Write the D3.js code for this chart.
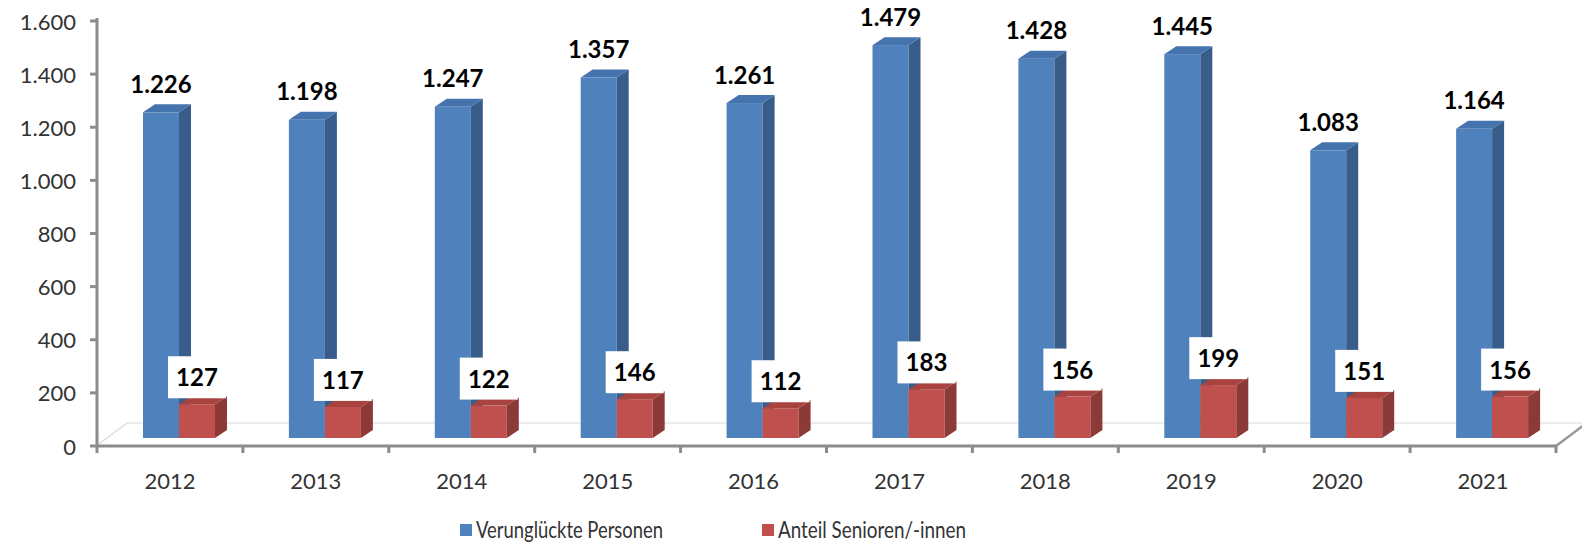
<!DOCTYPE html>
<html><head><meta charset="utf-8">
<script src="https://cdn.jsdelivr.net/npm/d3@7/dist/d3.min.js"></script>
<style>html,body{margin:0;padding:0;background:#fff;}svg{display:block;}</style>
</head><body>
<svg id="chart" width="1582" height="544"></svg>
<script>
const years = ["2012","2013","2014","2015","2016","2017","2018","2019","2020","2021"];
const verunglueckte = [1226,1198,1247,1357,1261,1479,1428,1445,1083,1164];
const senioren = [127,117,122,146,112,183,156,199,151,156];
const yTicks = [0,200,400,600,800,1000,1200,1400,1600];
const seriesNames = ["Verunglückte Personen","Anteil Senioren/-innen"];

const loc = d3.formatLocale({decimal:",", thousands:".", grouping:[3], currency:["","€"]});
const fmt = loc.format(",d");

const svg = d3.select("#chart");
const FONT = "Lato, 'Open Sans', sans-serif";

const x = d3.scaleBand().domain(years).range([97,1556]).padding(0);
const yAxisScale = d3.scaleLinear().domain([0,1600]).range([446,21]);
const yBar = d3.scaleLinear().domain([0,1600]).range([438,13]);
const dx = 12, dy = -8, bw = 36;
const blueOff = 46, redOff = 82;

// floor
svg.append("line").attr("x1",127).attr("y1",423).attr("x2",1590).attr("y2",423)
  .attr("stroke","#d9d9d9").attr("stroke-width",1.2);
svg.append("line").attr("x1",99).attr("y1",444).attr("x2",127).attr("y2",423)
  .attr("stroke","#d9d9d9").attr("stroke-width",1.2);
svg.append("line").attr("x1",1556).attr("y1",446).attr("x2",1584).attr("y2",425)
  .attr("stroke","#999").attr("stroke-width",2.5);

// axes
svg.append("line").attr("x1",97).attr("y1",18).attr("x2",97).attr("y2",446)
  .attr("stroke","#8c8c8c").attr("stroke-width",3);
svg.append("line").attr("x1",96).attr("y1",446).attr("x2",1557).attr("y2",446)
  .attr("stroke","#8c8c8c").attr("stroke-width",3);
svg.selectAll(".ytick").data(yTicks).enter().append("line")
  .attr("x1",90).attr("x2",97).attr("y1",d=>yAxisScale(d)).attr("y2",d=>yAxisScale(d))
  .attr("stroke","#8c8c8c").attr("stroke-width",3);
svg.selectAll(".ylab").data(yTicks).enter().append("text")
  .attr("x",76).attr("y",d=>yAxisScale(d)+8.5).attr("text-anchor","end")
  .attr("font-family",FONT).attr("font-size",22).attr("fill","#333").text(d=>fmt(d));
const bounds = years.map(y=>x(y)).concat([x.range()[1]]);
svg.selectAll(".xtick").data(bounds).enter().append("line")
  .attr("x1",d=>d).attr("x2",d=>d).attr("y1",446).attr("y2",453)
  .attr("stroke","#8c8c8c").attr("stroke-width",3);
svg.selectAll(".xlab").data(years).enter().append("text")
  .attr("x",d=>x(d)+x.bandwidth()/2).attr("y",489).attr("text-anchor","middle")
  .attr("font-family",FONT).attr("font-size",22).attr("fill","#333").text(d=>d);

function bar3d(g, x0, v, cols){
  const yt = yBar(v), yb = yBar(0);
  g.append("rect").attr("x",x0).attr("y",yt).attr("width",bw).attr("height",yb-yt).attr("fill",cols[0]);
  g.append("polygon").attr("points",[[x0+bw,yt],[x0+bw+dx,yt+dy],[x0+bw+dx,yb+dy],[x0+bw,yb]].join(" ")).attr("fill",cols[1]);
  g.append("polygon").attr("points",[[x0,yt],[x0+dx,yt+dy],[x0+bw+dx,yt+dy],[x0+bw,yt]].join(" ")).attr("fill",cols[2]);
}
const blueCols = ["#4F81BD","#385D8A","#4573AE"];
const redCols = ["#C0504D","#8C3A38","#A8433F"];
const gb = svg.append("g");
years.forEach((yr,i)=>{
  bar3d(gb, x(yr)+blueOff, verunglueckte[i], blueCols);
  bar3d(gb, x(yr)+redOff, senioren[i], redCols);
});

// labels
years.forEach((yr,i)=>{
  const bx = x(yr)+blueOff+bw/2;
  svg.append("text").attr("x",bx).attr("y",yBar(verunglueckte[i])-19.5).attr("text-anchor","middle")
    .attr("font-family",FONT).attr("font-weight","bold").attr("font-size",24).attr("fill","#000")
    .text(fmt(verunglueckte[i]));
  const rx = x(yr)+redOff+bw/2;
  const bottom = yBar(senioren[i])-6;
  svg.append("rect").attr("x",rx-29).attr("y",bottom-42).attr("width",58).attr("height",42).attr("fill","#fff");
  svg.append("text").attr("x",rx).attr("y",bottom-12).attr("text-anchor","middle")
    .attr("font-family",FONT).attr("font-weight","bold").attr("font-size",24).attr("fill","#000")
    .text(fmt(senioren[i]));
});

// legend
const legend = [{x:460, c:"#4F81BD", w:187},{x:762, c:"#C0504D", w:188}];
legend.forEach((l,i)=>{
  svg.append("rect").attr("x",l.x).attr("y",524).attr("width",12).attr("height",12).attr("fill",l.c);
  svg.append("text").attr("x",l.x+16).attr("y",538).attr("font-family",FONT).attr("font-size",24)
    .attr("fill","#333").attr("textLength",l.w).attr("lengthAdjust","spacingAndGlyphs").text(seriesNames[i]);
});
</script>
</body></html>
